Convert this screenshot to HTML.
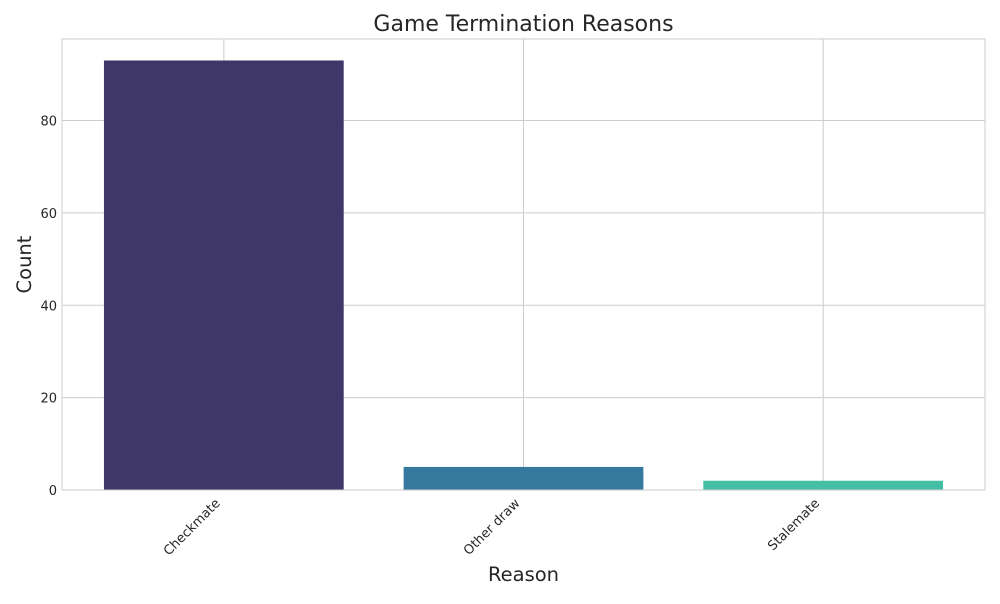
<!DOCTYPE html>
<html><head><meta charset="utf-8"><style>
body{margin:0;background:#fff;font-family:"DejaVu Sans","Liberation Sans",sans-serif;}
</style></head><body>
<svg id="chart" width="1000" height="600" xmlns="http://www.w3.org/2000/svg" font-family="DejaVu Sans, Liberation Sans, sans-serif"></svg>
<script>
const categories = ["Checkmate", "Other draw", "Stalemate"];
const counts = [93, 5, 2];
const colors = ["#3f3767", "#35799f", "#45bea6"];
const yTicks = [0, 20, 40, 60, 80];

const svg = document.getElementById('chart');
const NS = 'http://www.w3.org/2000/svg';
const L = 62, R = 985, T = 39, B = 490;
const xMin = -0.54, xMax = 2.54, yMin = 0, yMax = 97.65;
const xs = v => L + (v - xMin) / (xMax - xMin) * (R - L);
const ys = v => B - (v - yMin) / (yMax - yMin) * (B - T);
function mk(tag, attrs, parent) {
  const e = document.createElementNS(NS, tag);
  for (const k in attrs) e.setAttribute(k, attrs[k]);
  (parent || svg).appendChild(e);
  return e;
}
yTicks.forEach(t => {
  const g = mk('line', {x1: L, x2: R, y1: ys(t), y2: ys(t), stroke: '#cccccc', 'stroke-width': 1});
  
  
  const lb = mk('text', {x: L - 5, y: ys(t) + 5, 'text-anchor': 'end', 'font-size': 13, fill: '#262626'});
  lb.textContent = t;
  
  
});
categories.forEach((c, i) => {
  const g = mk('line', {x1: xs(i), x2: xs(i), y1: T, y2: B, stroke: '#cccccc', 'stroke-width': 1});
  
  
});
categories.forEach((c, i) => {
  const x0 = xs(i - 0.4), x1 = xs(i + 0.4);
  const b = mk('rect', {x: x0, y: ys(counts[i]), width: x1 - x0, height: ys(0) - ys(counts[i]), fill: colors[i]});
  
  
  const ax = xs(i) - 3, ay = B + 14;
  const lb = mk('text', {x: ax, y: ay, 'text-anchor': 'end', 'font-size': 13, fill: '#262626', transform: `rotate(-45 ${ax} ${ay})`});
  lb.textContent = c;
  
  
});
const fr = mk('rect', {x: L, y: T, width: R - L, height: B - T, fill: 'none', stroke: '#cccccc', 'stroke-width': 1});


const title = mk('text', {x: (L + R) / 2, y: 31, 'text-anchor': 'middle', 'font-size': 22, fill: '#262626'});
title.textContent = 'Game Termination Reasons';


const xt = mk('text', {x: (L + R) / 2, y: 581, 'text-anchor': 'middle', 'font-size': 19.5, fill: '#262626'});
xt.textContent = 'Reason';


const yt = mk('text', {x: 31, y: (T + B) / 2, 'text-anchor': 'middle', 'font-size': 19.5, fill: '#262626', transform: `rotate(-90 31 ${(T + B) / 2})`});
yt.textContent = 'Count';


</script>
</body></html>
